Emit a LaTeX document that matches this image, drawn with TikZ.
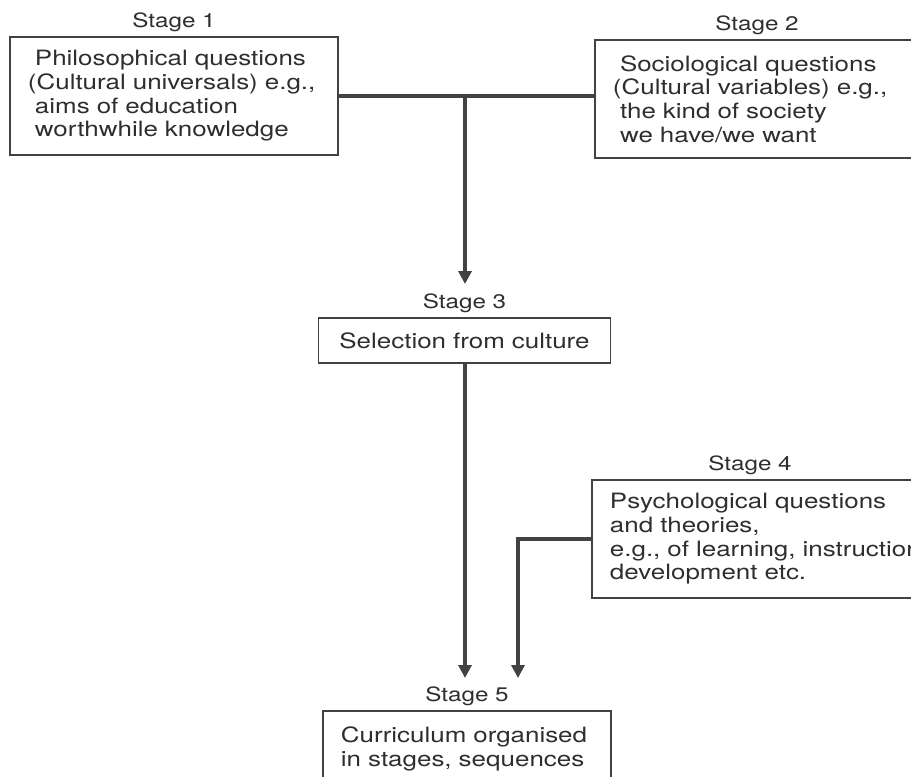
\documentclass[tikz,border=0pt]{standalone}
\usepackage{fontspec}
\setmainfont{TeX Gyre Heros}[FakeStretch=1.23]
\usepackage{tikz}
\usetikzlibrary{shapes,arrows.meta,positioning}
\definecolor{inkgray}{HTML}{2E2E2E}
\definecolor{linegray}{HTML}{424242}
\tikzstyle{stagebox} = [rectangle, draw=linegray, line width=1.1pt, text=inkgray, align=left, inner xsep=0.45cm, font=\fontsize{15}{16.8}\selectfont]
\tikzstyle{stagelabel} = [inner sep=0pt, text=inkgray, font=\fontsize{14}{16}\selectfont]
\tikzstyle{link} = [draw=linegray, line width=2.5pt]
\tikzstyle{arrow} = [link, -{Triangle[width=0.32cm,length=0.32cm]}]

\begin{document}
\begin{tikzpicture}[x=0.025cm, y=-0.025cm, node distance=0.1cm] % one unit = one pixel of the page
\clip (0,0) rectangle (911,776);

% Place the boxes of the stages
\node(s1_box)  [stagebox, text width=7.3cm, minimum height=2.95cm]  at (174,96)   {\ Philosophical questions\\(Cultural universals) e.g.,\\\ aims of education\\\ worthwhile knowledge};
\node(s2_box)  [stagebox, text width=7.2cm, minimum height=2.95cm]  at (757,99)   {\ Sociological questions\\(Cultural variables) e.g.,\\\ the kind of society\\\ we have/we want};
\node(s3_box)  [stagebox, text width=6.4cm, align=center, minimum height=1.125cm] at (464.5,340.5) {Selection from culture};
\node(s4_box)  [stagebox, text width=8.2cm, minimum height=2.95cm]  at (774,539)  {Psychological questions\\and theories,\\e.g., of learning, instruction,\\development etc.};
\node(s5_box)  [stagebox, text width=6.3cm, anchor=north, inner ysep=0.4cm, text depth=2.6cm] at (467,710) {Curriculum organised\\in stages, sequences};

% Place the stage names above the boxes
\node(s1_label) [stagelabel, above=of s1_box]               {Stage 1};
\node(s2_label) [stagelabel, above=of s2_box]               {Stage 2};
\node(s3_label) [stagelabel, above=of s3_box]               {Stage 3};
\node(s4_label) [stagelabel, above=of s4_box, xshift=-0.6cm] {Stage 4};
\node(s5_label) [stagelabel, above=of s5_box]               {Stage 5};

% Points where the arrows turn or stop
\coordinate (join)    at (465,98);
\coordinate (s3_tip)  at (465,284);
\coordinate (s5_tip)  at (465,678);
\coordinate (s4_tip)  at (518,678);

% Connect the nodes with arrows
\draw [link]  (s1_box.east)   -- (s1_box.east -| s2_box.west);
\draw [arrow] (join)          -- (s3_tip);
\draw [arrow] (s3_box.south -| s5_tip) -- (s5_tip);
\draw [arrow] (s4_box.west)   -| (s4_tip);

\end{tikzpicture}
\end{document}
